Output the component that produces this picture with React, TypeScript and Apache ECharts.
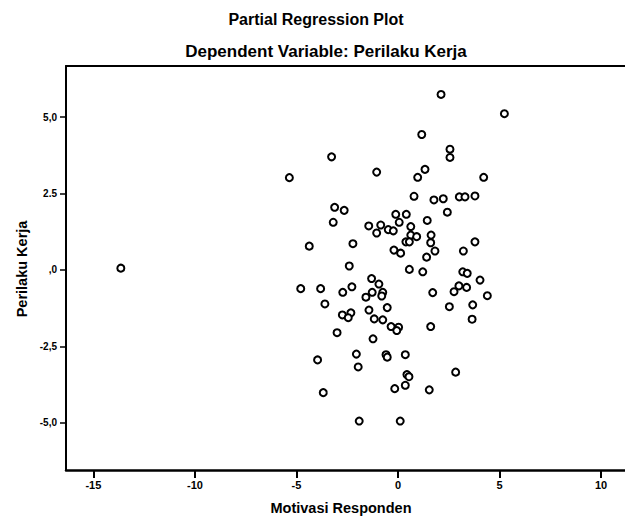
import React, { useEffect, useRef } from "react";
import * as echarts from "echarts";

const titleText = "Partial Regression Plot";
const subtitleText = "Dependent Variable: Perilaku Kerja";
const xAxisName = "Motivasi Responden";
const yAxisName = "Perilaku Kerja";

const xTicks = [-15, -10, -5, 0, 5, 10];
const xTickLabels = ["-15", "-10", "-5", "0", "5", "10"];
const yTicks = [-5, -2.5, 0, 2.5, 5];
const yTickLabels = ["-5,0", "-2,5", ",0", "2.5", "5,0"];

// Motivasi Responden (x) residuals
const motivasi = [
  5.24, 2.12, 1.17, 2.56, 2.56, -3.27, -5.35, -1.05, 1.33, 0.97,
  4.22, 0.79, 1.77, 2.23, 3.02, 3.3, 3.79, -3.12, -2.65, 2.43,
  -0.11, 0.41, -3.19, 0.06, 1.44, -1.44, -0.85, -0.48, -0.23, -1.05,
  0.63, 0.63, 0.92, 0.39, 0.56, 1.63, 1.61, 3.79, -4.37, -2.22,
  -0.2, 0.13, 1.82, 3.22, 1.41, -2.4, 0.56, 1.22, 3.19, 3.41,
  -1.3, 4.04, -0.94, -4.79, -3.81, -2.27, -2.72, -1.27, -1.58, -0.75,
  -0.8, 3.0, 3.38, 2.76, 1.71, 4.4, -3.6, 3.68, 2.53, -1.43,
  -0.53, -2.74, -2.32, -2.45, -1.17, -0.75, 3.65, -0.34, 0.03, -0.06,
  1.61, -3.0, -1.23, -2.05, -0.59, -0.53, 0.36, -3.96, -1.96, 2.84,
  0.44, 0.54, -0.16, 0.36, 1.54, -3.68, -1.91, 0.11, -13.65,
];

// Perilaku Kerja (y) residuals
const perilaku = [
  5.11, 5.74, 4.43, 3.95, 3.68, 3.7, 3.02, 3.2, 3.29, 3.03,
  3.03, 2.41, 2.29, 2.33, 2.39, 2.39, 2.42, 2.05, 1.95, 1.89,
  1.82, 1.82, 1.56, 1.56, 1.62, 1.44, 1.47, 1.32, 1.28, 1.21,
  1.42, 1.14, 1.09, 0.92, 0.92, 1.14, 0.89, 0.92, 0.78, 0.86,
  0.65, 0.55, 0.62, 0.62, 0.42, 0.13, 0.02, -0.06, -0.06, -0.11,
  -0.28, -0.33, -0.46, -0.61, -0.61, -0.55, -0.73, -0.73, -0.89, -0.73,
  -0.85, -0.52, -0.57, -0.71, -0.74, -0.84, -1.11, -1.14, -1.2, -1.31,
  -1.23, -1.47, -1.4, -1.56, -1.6, -1.63, -1.61, -1.85, -1.87, -1.98,
  -1.85, -2.05, -2.25, -2.75, -2.77, -2.85, -2.77, -2.94, -3.17, -3.34,
  -3.42, -3.49, -3.88, -3.77, -3.92, -4.01, -4.94, -4.94, 0.06,
];

const FONT = "'Liberation Sans', Arial, sans-serif";

export default function App() {
  const ref = useRef<HTMLDivElement>(null);

  useEffect(() => {
    if (!ref.current) return;
    const chart = echarts.init(ref.current, null, { renderer: "svg" });
    const points = motivasi.map((x, i) => [x, perilaku[i]]);
    const xFmt = (v: number) => {
      const i = xTicks.indexOf(v);
      return i >= 0 ? xTickLabels[i] : "";
    };
    const yFmt = (v: number) => {
      const i = yTicks.indexOf(v);
      return i >= 0 ? yTickLabels[i] : "";
    };
    chart.setOption({
      animation: false,
      backgroundColor: "#ffffff",
      grid: { left: 66, right: 0, top: 66, bottom: 54, show: false },
      xAxis: [
        {
          type: "value",
          position: "bottom",
          min: -16.35,
          max: 11.18,
          axisLine: { show: true, onZero: false, lineStyle: { color: "#000", width: 2.5 } },
          axisTick: {
            show: true,
            customValues: xTicks,
            length: 8,
            lineStyle: { color: "#000", width: 2 },
          },
          axisLabel: {
            customValues: xTicks,
            formatter: xFmt,
            color: "#000",
            fontFamily: FONT,
            fontWeight: "bold",
            fontSize: 11,
            margin: 9,
          },
          splitLine: { show: false },
        },
        {
          type: "value",
          position: "top",
          min: -16.35,
          max: 11.18,
          axisLine: { show: true, onZero: false, lineStyle: { color: "#000", width: 2 } },
          axisTick: { show: false },
          axisLabel: { show: false },
          splitLine: { show: false },
        },
      ],
      yAxis: {
        type: "value",
        min: -6.54,
        max: 6.67,
        axisLine: { show: true, onZero: false, lineStyle: { color: "#000", width: 2 } },
        axisTick: {
          show: true,
          customValues: yTicks,
          length: 6,
          lineStyle: { color: "#000", width: 1.5 },
        },
        axisLabel: {
          customValues: yTicks,
          formatter: yFmt,
          color: "#000",
          fontFamily: FONT,
          fontWeight: "bold",
          fontSize: 10,
          margin: 9,
        },
        splitLine: { show: false },
      },
      graphic: [
        {
          type: "text",
          x: 316,
          y: 19,
          style: {
            text: titleText,
            fontFamily: FONT,
            fontWeight: "bold",
            fontSize: 16,
            fill: "#000",
            textAlign: "center",
            textVerticalAlign: "middle",
          },
        },
        {
          type: "text",
          x: 326,
          y: 51,
          style: {
            text: subtitleText,
            fontFamily: FONT,
            fontWeight: "bold",
            fontSize: 17,
            fill: "#000",
            textAlign: "center",
            textVerticalAlign: "middle",
          },
        },
        {
          type: "text",
          x: 341,
          y: 508,
          style: {
            text: xAxisName,
            fontFamily: FONT,
            fontWeight: "bold",
            fontSize: 14.5,
            fill: "#000",
            textAlign: "center",
            textVerticalAlign: "middle",
          },
        },
        {
          type: "text",
          x: 22,
          y: 269,
          rotation: Math.PI / 2,
          style: {
            text: yAxisName,
            fontFamily: FONT,
            fontWeight: "bold",
            fontSize: 14.5,
            fill: "#000",
            textAlign: "center",
            textVerticalAlign: "middle",
          },
        },
      ],
      series: [
        {
          type: "scatter",
          xAxisIndex: 0,
          data: points,
          symbol: "circle",
          symbolSize: 7,
          itemStyle: { color: "#ffffff", borderColor: "#000", borderWidth: 2, opacity: 1 },
          emphasis: { disabled: true },
        },
      ],
    });
    return () => chart.dispose();
  }, []);

  return (
    <div
      ref={ref}
      style={{ position: "absolute", left: 0, top: 0, width: 625, height: 524 }}
    />
  );
}
